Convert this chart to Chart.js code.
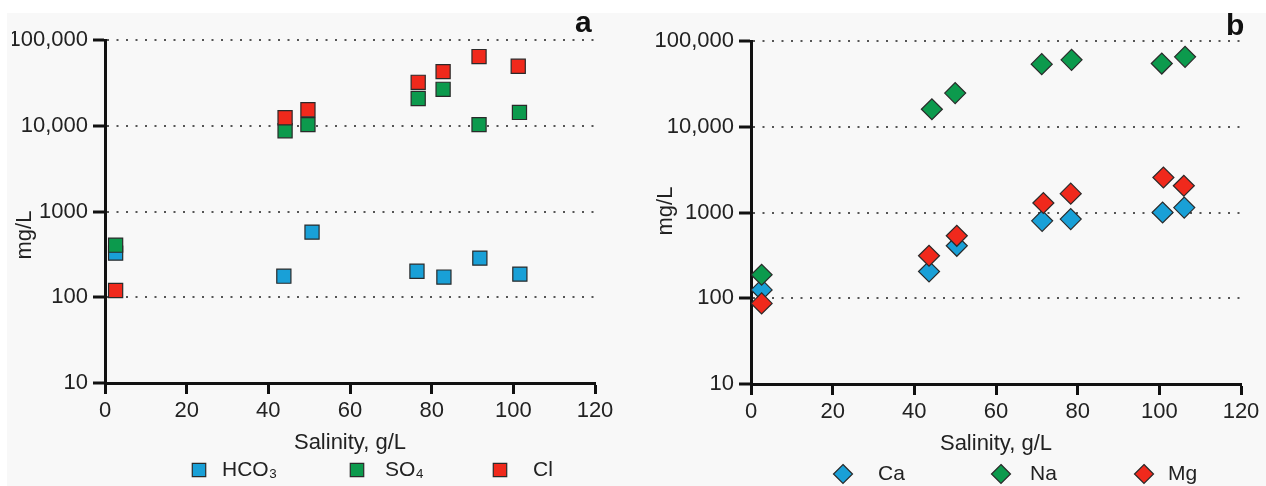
<!DOCTYPE html>
<html><head><meta charset="utf-8">
<script src="https://cdn.jsdelivr.net/npm/chart.js@4.4.1/dist/chart.umd.min.js"></script>
<style>
html,body{margin:0;padding:0;background:#fff;}
#wrap{position:relative;width:1266px;height:486px;overflow:hidden;}
#bg{position:absolute;left:7px;top:13px;right:0;bottom:0;background:#f8f8f8;}
canvas{position:absolute;top:0;}
#ca{left:0;}
#cb{left:630px;}
.lab{position:absolute;font:bold 30px "Liberation Sans",Arial,sans-serif;color:#111;line-height:30px;}
</style></head><body>
<div id="wrap"><div id="bg"></div>
<canvas id="ca" width="630" height="486"></canvas>
<canvas id="cb" width="636" height="486"></canvas>
<div class="lab" style="left:575px;top:7px">a</div>
<div class="lab" style="left:1226px;top:10px">b</div>
</div>
<script>
// ---- axis ticks ----
const xTickValues = [0, 20, 40, 60, 80, 100, 120];
const yTickValues = [10, 100, 1000, 10000, 100000];
const yTickLabels = ['10', '100', '1000', '10,000', '100,000'];

// ---- panel a: anions (mg/L) vs salinity (g/L) ----
const hco3Salinity = [2.6, 43.8, 50.7, 76.4, 83.0, 91.8, 101.6];
const hco3Values   = [327, 176, 575, 201, 172, 286, 186];
const so4Salinity  = [2.6, 44.1, 49.7, 76.7, 82.8, 91.6, 101.5];
const so4Values    = [405, 8750, 10300, 20800, 26600, 10300, 14300];
const clSalinity   = [2.6, 44.1, 49.7, 76.7, 82.8, 91.6, 101.2];
const clValues     = [120, 12400, 15400, 32100, 42800, 64100, 49400];

// ---- panel b: cations (mg/L) vs salinity (g/L) ----
const caSalinity = [2.6, 43.6, 50.4, 71.3, 78.3, 100.8, 106.1];
const caValues   = [125, 205, 409, 800, 838, 1000, 1140];
const naSalinity = [2.6, 44.3, 50.0, 71.2, 78.5, 100.6, 106.3];
const naValues   = [188, 16000, 24700, 53700, 60300, 54600, 65300];
const mgSalinity = [2.6, 43.6, 50.4, 71.6, 78.3, 101.0, 106.0];
const mgValues   = [87, 313, 535, 1290, 1660, 2560, 2050];

const FAM = '"Liberation Sans", Arial, Helvetica, sans-serif';
const BLUE = '#19a0d7', GREEN = '#0c9a4d', RED = '#f0291c', EDGE = '#2a2a2a';

function pts(xs, ys) { return xs.map((x, i) => ({x: x, y: ys[i]})); }

function drawMarker(ctx, style, x, y, r, fill, stroke) {
  ctx.beginPath();
  if (style === 'rect') {
    const s = r * Math.SQRT1_2;
    ctx.rect(x - s, y - s, 2 * s, 2 * s);
  } else {
    ctx.moveTo(x, y - r); ctx.lineTo(x + r, y); ctx.lineTo(x, y + r); ctx.lineTo(x - r, y); ctx.closePath();
  }
  ctx.fillStyle = fill; ctx.fill();
  ctx.lineWidth = 1.2; ctx.strokeStyle = stroke; ctx.stroke();
}

const customLegend = {
  id: 'customLegend',
  afterDraw(chart, args, opts) {
    const ctx = chart.ctx;
    ctx.save();
    chart.data.datasets.forEach((ds, i) => {
      const it = opts.items[i];
      drawMarker(ctx, ds.pointStyle, it.sx, opts.y, opts.r, ds.pointBackgroundColor, ds.pointBorderColor);
      ctx.fillStyle = '#222';
      ctx.font = '21px ' + FAM;
      ctx.textBaseline = 'middle';
      ctx.textAlign = 'left';
      ctx.fillText(ds.label, it.tx, opts.y);
    });
    ctx.restore();
  }
};

// y-axis title placed at a chosen centre
const yTitle = {
  id: 'yTitle',
  afterDraw(chart, args, opts) {
    const ctx = chart.ctx;
    ctx.save();
    ctx.translate(opts.x, opts.y);
    ctx.rotate(-Math.PI / 2);
    ctx.fillStyle = '#222';
    ctx.font = '22px ' + FAM;
    ctx.textAlign = 'center';
    ctx.textBaseline = 'middle';
    ctx.fillText(opts.text, 0, 0);
    ctx.restore();
  }
};

function ds(label, xs, ys, style, color, radius, order) {
  return {
    label: label, data: pts(xs, ys), pointStyle: style, pointRadius: radius,
    pointHoverRadius: radius, pointBackgroundColor: color, pointBorderColor: EDGE,
    pointBorderWidth: 1.2, showLine: false, order: order
  };
}

function makeOptions(cfg) {
  return {
    responsive: false, animation: false, devicePixelRatio: 1,
    layout: {padding: {left: cfg.padL, right: cfg.padR, top: cfg.padT, bottom: cfg.padB}},
    plugins: {
      legend: {display: false}, tooltip: {enabled: false},
      customLegend: cfg.legend,
      yTitle: cfg.yTitle
    },
    scales: {
      x: {
        type: 'linear', position: 'bottom', min: 0, max: 120,
        afterBuildTicks: s => { s.ticks = xTickValues.map(v => ({value: v})); },
        afterFit: s => { s.height = 73; },
        grid: {drawOnChartArea: false, drawTicks: true, tickLength: 11, tickWidth: 3, tickColor: '#111'},
        border: {display: true, width: 3, color: '#111'},
        ticks: {padding: 4, color: '#222', font: {family: FAM, size: 22}, maxRotation: 0},
        title: {display: true, text: 'Salinity, g/L', color: '#222', font: {family: FAM, size: 22}, padding: 0}
      },
      y: {
        type: 'logarithmic', position: 'left', min: 10, max: 100000,
        afterBuildTicks: s => { s.ticks = yTickValues.map(v => ({value: v})); },
        afterFit: s => { s.width = cfg.yW; },
        grid: {color: '#555', lineWidth: 2, drawTicks: true, tickLength: 12, tickWidth: 3, tickColor: '#111', tickBorderDash: []},
        border: {display: true, width: 3, color: '#111', dash: [2, 7.5]},
        ticks: {padding: 5, color: '#222', font: {family: FAM, size: 22}, callback: (v, i) => yTickLabels[i]},
        title: {display: false}
      }
    }
  };
}

new Chart(document.getElementById('ca'), {
  type: 'scatter',
  data: {datasets: [
    ds('HCO₃', hco3Salinity, hco3Values, 'rect', BLUE, 10, 3),
    ds('SO₄', so4Salinity, so4Values, 'rect', GREEN, 10, 2),
    ds('Cl', clSalinity, clValues, 'rect', RED, 10, 1)
  ]},
  options: makeOptions({padL: 12, padR: 35, padT: 40, padB: 30, yW: 93,
    yTitle: {text: 'mg/L', x: 25, y: 235},
    legend: {y: 470, r: 9.5, items: [{sx: 199, tx: 222}, {sx: 357, tx: 385}, {sx: 500, tx: 533}]}}),
  plugins: [customLegend, yTitle]
});

new Chart(document.getElementById('cb'), {
  type: 'scatter',
  data: {datasets: [
    ds('Ca', caSalinity, caValues, 'rectRot', BLUE, 10.5, 3),
    ds('Na', naSalinity, naValues, 'rectRot', GREEN, 10.5, 2),
    ds('Mg', mgSalinity, mgValues, 'rectRot', RED, 10.5, 1)
  ]},
  options: makeOptions({padL: 22, padR: 25, padT: 41, padB: 29, yW: 99,
    yTitle: {text: 'mg/L', x: 36, y: 211},
    legend: {y: 474, r: 9.5, items: [{sx: 213, tx: 248}, {sx: 371, tx: 400}, {sx: 514, tx: 538}]}}),
  plugins: [customLegend, yTitle]
});
</script>
</body></html>
